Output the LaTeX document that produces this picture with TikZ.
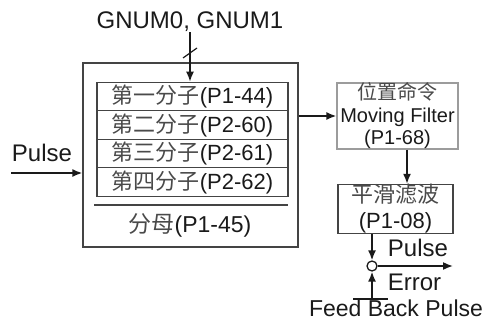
\documentclass[tikz,border=0pt]{standalone}
\usepackage{fontspec}
\setmainfont{Liberation Sans}
\newfontfamily\cjk{Noto Sans CJK SC}
\usepackage{xcolor}
\usepackage{tikz}
\usetikzlibrary{arrows.meta,positioning,calc}
\definecolor{inkdark}{HTML}{1A1A1A}
\definecolor{framegray}{HTML}{444444}
\definecolor{softframe}{HTML}{9C9C9C}
\definecolor{cjkgray}{HTML}{4A4A4A}

\begin{document}
\begin{tikzpicture}[
 x=1pt,y=-1pt,
 every node/.style={text=inkdark},
 blk/.style={draw=framegray,line width=1.3pt,align=center,inner sep=0pt},
 row/.style={draw=framegray,line width=1.1pt,minimum width=191pt,minimum height=28.5pt,inner sep=0pt,font=\fontsize{22}{22}\selectfont},
 lbl/.style={inner sep=0pt,font=\fontsize{24}{24}\selectfont},
 arr/.style={draw=inkdark,line width=1.6pt,-{Latex[length=10pt,width=8pt]}},
 wire/.style={draw=inkdark,line width=1.6pt}
]
\useasboundingbox (0,0) rectangle (492,321);
% multiplier block
\node[lbl] (gnum) at (190,22) {GNUM0, GNUM1};
\node[blk,minimum width=215pt,minimum height=184pt] (frac) at (190.5,155) {};
\foreach \i/\zh/\prm in {1/第一/P1-44,2/第二/P2-60,3/第三/P2-61,4/第四/P2-62}
  \node[row] (row\i) at (192.5,{68+28.5*\i}) {{\cjk\color{cjkgray}\zh 分子}(\prm)};
\draw[line width=2pt,framegray] (94,205) -- (288,205);
\node[inner sep=0pt,font=\fontsize{23}{23}\selectfont] (den) at (190,225) {{\cjk\color{cjkgray}分母}(P1-45)};
\draw[arr] (gnum.south) -- (gnum.south |- row1.north);
\coordinate (cut) at (190,53);
\draw[wire,line width=1.2pt] ([xshift=-7pt,yshift=-5pt]cut) -- ([xshift=7pt,yshift=5pt]cut);
% pulse input
\node[lbl] (pin) at (42,153) {Pulse};
\coordinate (pstart) at (11,173);
\draw[arr] (pstart) -- (pstart -| frac.west);
% filters
\node[blk,draw=softframe,minimum width=121pt,minimum height=62pt,font=\fontsize{20}{22.5}\selectfont] (filt) at (397.5,116) {{\cjk\color{cjkgray}位置命令}\\Moving Filter\\(P1-68)};
\draw[arr] (frac.east |- filt.west) -- (filt.west);
\node[blk,minimum width=115pt,minimum height=48pt,font=\fontsize{22}{26}\selectfont] (smooth) at (395.5,209) {{\cjk\color{cjkgray}平滑滤波}\\(P1-08)};
\draw[arr] ([xshift=9.5pt]filt.south) -- ([xshift=9.5pt]filt.south |- smooth.north);
% error node
\node[draw=inkdark,line width=1.3pt,circle,minimum size=10pt,inner sep=0pt] (sum) at (372,266) {};
\draw[arr] (sum |- smooth.south) -- (sum.north);
\coordinate (eout) at (453,266);
\draw[arr] (sum.east) -- (eout);
\node[lbl] (pout) at (418,248) {Pulse};
\node[lbl] (err) at (414.5,282) {Error};
\node[lbl,font=\fontsize{23}{23}\selectfont] (fb) at (396,308.5) {Feed Back Pulse};
\coordinate (fbt) at (372,299);
\draw[wire,line width=1.2pt] ([xshift=-19pt]fbt) -- ([xshift=16pt]fbt);
\draw[arr] (fbt) -- (sum.south);
\end{tikzpicture}
\end{document}
